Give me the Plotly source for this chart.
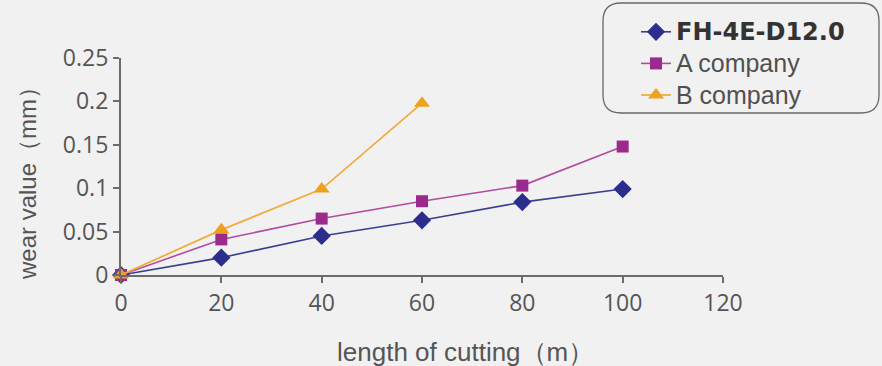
import plotly.graph_objects as go

W, H = 882, 366

# cutting length (m)
length_fh = [0, 20, 40, 60, 80, 100]
length_a = [0, 20, 40, 60, 80, 100]
length_b = [0, 20, 40, 60]

# wear value (mm)
wear_fh = [0, 0.02, 0.045, 0.063, 0.084, 0.099]
wear_a = [0, 0.041, 0.065, 0.085, 0.103, 0.148]
wear_b = [0, 0.052, 0.099, 0.198]

series_names = [
    "<span style='font-family:DejaVu Sans;font-weight:bold;font-size:24px;color:#333'>FH-4E-D12.0</span>",
    "<span style='font-size:25px'>A company</span>",
    "<span style='font-size:25px'>B company</span>",
]

x_ticks = [0, 20, 40, 60, 80, 100, 120]
y_ticks = [0, 0.05, 0.1, 0.15, 0.2, 0.25]
y_tick_text = ["0", "0.05", "0.1", "0.15", "0.2", "0.25"]

x_title = "length of cutting（m）"
y_title = "wear value（mm）"

BG = "#f1f1f1"
AXIS = "#6b6b6b"
TEXT = "#555555"
SANS = "Liberation Sans, Arial, sans-serif"


def px_x(p):
    return p / W


def px_y(p):
    return 1 - p / H


fig = go.Figure()
fig.add_trace(go.Scatter(
    x=length_fh, y=wear_fh, name=series_names[0], mode="lines+markers",
    line=dict(color="#3b3f91", width=1.6),
    marker=dict(symbol="diamond", size=14, color="#2b2e8c"),
    cliponaxis=False,
))
fig.add_trace(go.Scatter(
    x=length_a, y=wear_a, name=series_names[1], mode="lines+markers",
    line=dict(color="#b04b9f", width=1.6),
    marker=dict(symbol="square", size=12, color="#9c2a8c"),
    cliponaxis=False,
))
fig.add_trace(go.Scatter(
    x=length_b, y=wear_b, name=series_names[2], mode="lines+markers",
    line=dict(color="#f0ad3e", width=1.8),
    marker=dict(symbol="triangle-up", size=14, color="#eba21f"),
    cliponaxis=False,
))

# rounded legend frame
x0, x1 = 603, 879
y0, y1 = 3, 113
r = 18
path = (
    f"M {px_x(x0 + r)},{px_y(y0)} L {px_x(x1 - r)},{px_y(y0)} "
    f"Q {px_x(x1)},{px_y(y0)} {px_x(x1)},{px_y(y0 + r)} "
    f"L {px_x(x1)},{px_y(y1 - r)} "
    f"Q {px_x(x1)},{px_y(y1)} {px_x(x1 - r)},{px_y(y1)} "
    f"L {px_x(x0 + r)},{px_y(y1)} "
    f"Q {px_x(x0)},{px_y(y1)} {px_x(x0)},{px_y(y1 - r)} "
    f"L {px_x(x0)},{px_y(y0 + r)} "
    f"Q {px_x(x0)},{px_y(y0)} {px_x(x0 + r)},{px_y(y0)} Z"
)
fig.add_shape(type="path", path=path, xref="paper", yref="paper",
              line=dict(color="#686868", width=1.3), fillcolor="rgba(0,0,0,0)")

# axis titles
fig.add_annotation(text=x_title, xref="paper", yref="paper",
                   x=px_x(465), y=px_y(352), xanchor="center", yanchor="middle",
                   showarrow=False, font=dict(family=SANS, size=26, color=TEXT))
fig.add_annotation(text=y_title, xref="paper", yref="paper", textangle=-90,
                   x=px_x(27), y=px_y(178), xanchor="center", yanchor="middle",
                   showarrow=False, font=dict(family=SANS, size=24, color=TEXT))

fig.update_layout(
    width=W, height=H,
    margin=dict(l=0, r=0, t=0, b=0),
    paper_bgcolor=BG, plot_bgcolor=BG,
    font=dict(family=SANS, color=TEXT, size=20),
    showlegend=True,
    legend=dict(
        x=px_x(636), y=px_y(11), xanchor="left", yanchor="top",
        bgcolor="rgba(0,0,0,0)", borderwidth=0,
        font=dict(family=SANS, size=22, color="#505050"),
        tracegroupgap=0, itemwidth=30,
    ),
    xaxis=dict(
        domain=[px_x(121), px_x(723)], range=[0, 120],
        tickmode="array", tickvals=x_ticks,
        showgrid=False, zeroline=False,
        showline=True, linecolor=AXIS, linewidth=2.2,
        ticks="outside", ticklen=6, tickcolor=AXIS, tickwidth=1.5,
        tickfont=dict(family="Open Sans, sans-serif", size=23, color=TEXT),
        automargin=False,
    ),
    yaxis=dict(
        domain=[px_y(275), px_y(58)], range=[0, 0.25],
        tickmode="array", tickvals=y_ticks, ticktext=y_tick_text,
        showgrid=False, zeroline=False,
        showline=True, linecolor=AXIS, linewidth=2.2,
        ticks="outside", ticklen=6, tickcolor=AXIS, tickwidth=1.5,
        tickfont=dict(family="Open Sans, sans-serif", size=23, color=TEXT),
        automargin=False,
    ),
)

fig.write_html("out.html")
